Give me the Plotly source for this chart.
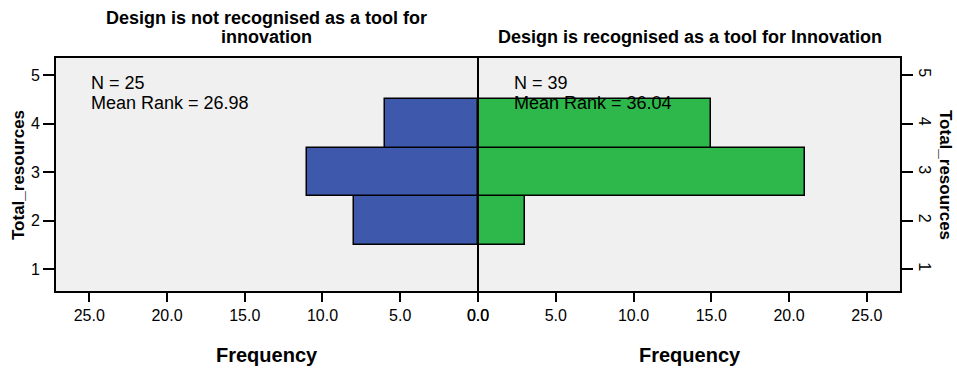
import plotly.graph_objects as go

# Data
bin_centers = [2, 3, 4]
freq_not_recognised = [8, 11, 6]
freq_recognised = [3, 21, 15]
x_ticks = [0, 5, 10, 15, 20, 25]
x_tick_labels = ["0.0", "5.0", "10.0", "15.0", "20.0", "25.0"]
y_ticks = [1, 2, 3, 4, 5]
title_left_lines = ["Design is not recognised as a tool for", "innovation"]
title_right = "Design is recognised as a tool for Innovation"
stats_left = ["N = 25", "Mean Rank = 26.98"]
stats_right = ["N = 39", "Mean Rank = 36.04"]

W, H = 957, 369
L, R, T, B = 55, 56, 57, 77
PW, PH = W - L - R, H - T - B
FONT = "Liberation Sans, Arial, sans-serif"
BLUE = "#3E58AC"
GREEN = "#2EB84B"


def px_x(px):
    return (px - L) / PW


def px_y(py):
    return (T + PH - py) / PH


fig = go.Figure()
fig.add_trace(go.Bar(
    x=freq_not_recognised, y=bin_centers, orientation="h", width=1,
    marker=dict(color=BLUE, line=dict(color="black", width=1.5)),
    xaxis="x", yaxis="y", showlegend=False, hoverinfo="skip"))
fig.add_trace(go.Bar(
    x=freq_recognised, y=bin_centers, orientation="h", width=1,
    marker=dict(color=GREEN, line=dict(color="black", width=1.5)),
    xaxis="x2", yaxis="y2", showlegend=False, hoverinfo="skip"))

xmax = 27.2
yr = [0.526, 5.371]
tickfont = dict(family=FONT, size=16, color="black")
common_x = dict(tickvals=x_ticks, ticktext=x_tick_labels, ticks="outside",
                ticklen=9, tickwidth=1.5, tickcolor="black", showgrid=False,
                zeroline=False, showline=False, tickfont=tickfont, fixedrange=True,
                automargin=False)
fig.update_layout(
    width=W, height=H,
    margin=dict(l=L, r=R, t=T, b=B, pad=0),
    paper_bgcolor="white", plot_bgcolor="#F0F0F0",
    font=dict(family=FONT, color="black"),
    xaxis=dict(domain=[0, 0.5], range=[xmax, 0], anchor="y", **common_x),
    xaxis2=dict(domain=[0.5, 1], range=[0, xmax], anchor="y2", **common_x),
    yaxis=dict(domain=[0, 1], range=yr, anchor="x", side="left", tickvals=y_ticks,
               ticks="outside", ticklen=11, tickwidth=1.5, tickcolor="black",
               showgrid=False, zeroline=False, showline=False, tickfont=tickfont,
               automargin=False, fixedrange=True),
    yaxis2=dict(domain=[0, 1], range=yr, anchor="x2", side="right", tickvals=y_ticks,
                ticks="outside", ticklen=11, tickwidth=1.5, tickcolor="black",
                tickangle=90, showgrid=False, zeroline=False, showline=False,
                tickfont=tickfont, automargin=False, fixedrange=True),
    bargap=0,
)

shapes = [
    dict(type="rect", xref="paper", yref="paper", x0=0, x1=1, y0=0, y1=1,
         line=dict(color="black", width=2), fillcolor="rgba(0,0,0,0)", layer="above"),
    dict(type="line", xref="paper", yref="paper", x0=0.5, x1=0.5, y0=0, y1=1,
         line=dict(color="black", width=2), layer="above"),
]
fig.update_layout(shapes=shapes)

ann = []
bold18 = dict(family=FONT, size=18, color="black")
ann.append(dict(text="<b>%s</b>" % title_left_lines[0], x=px_x(266.5), y=px_y(18),
                xref="paper", yref="paper", showarrow=False, xanchor="center",
                yanchor="middle", font=bold18))
ann.append(dict(text="<b>%s</b>" % title_left_lines[1], x=px_x(266.5), y=px_y(37),
                xref="paper", yref="paper", showarrow=False, xanchor="center",
                yanchor="middle", font=bold18))
ann.append(dict(text="<b>%s</b>" % title_right, x=px_x(689.5), y=px_y(37),
                xref="paper", yref="paper", showarrow=False, xanchor="center",
                yanchor="middle", font=bold18))
for cx in (266.5, 689.5):
    ann.append(dict(text="<b>Frequency</b>", x=px_x(cx), y=px_y(355),
                    xref="paper", yref="paper", showarrow=False, xanchor="center",
                    yanchor="middle", font=dict(family=FONT, size=20, color="black")))
ann.append(dict(text="<b>Total_resources</b>", x=px_x(18), y=px_y(175), textangle=-90,
                xref="paper", yref="paper", showarrow=False, xanchor="center",
                yanchor="middle", font=dict(family=FONT, size=17, color="black")))
ann.append(dict(text="<b>Total_resources</b>", x=px_x(946), y=px_y(175), textangle=90,
                xref="paper", yref="paper", showarrow=False, xanchor="center",
                yanchor="middle", font=dict(family=FONT, size=17, color="black")))
reg18 = dict(family=FONT, size=18, color="black")
for x0, lines in ((91, stats_left), (514, stats_right)):
    for i, line in enumerate(lines):
        ann.append(dict(text=line, x=px_x(x0), y=px_y(83 + 20 * i),
                        xref="paper", yref="paper", showarrow=False, xanchor="left",
                        yanchor="middle", font=reg18, xshift=-2))
fig.update_layout(annotations=ann)

fig.write_html("out.html", config={"displayModeBar": False},
               post_script="document.body.style.margin='0';document.body.style.overflow='hidden';")
